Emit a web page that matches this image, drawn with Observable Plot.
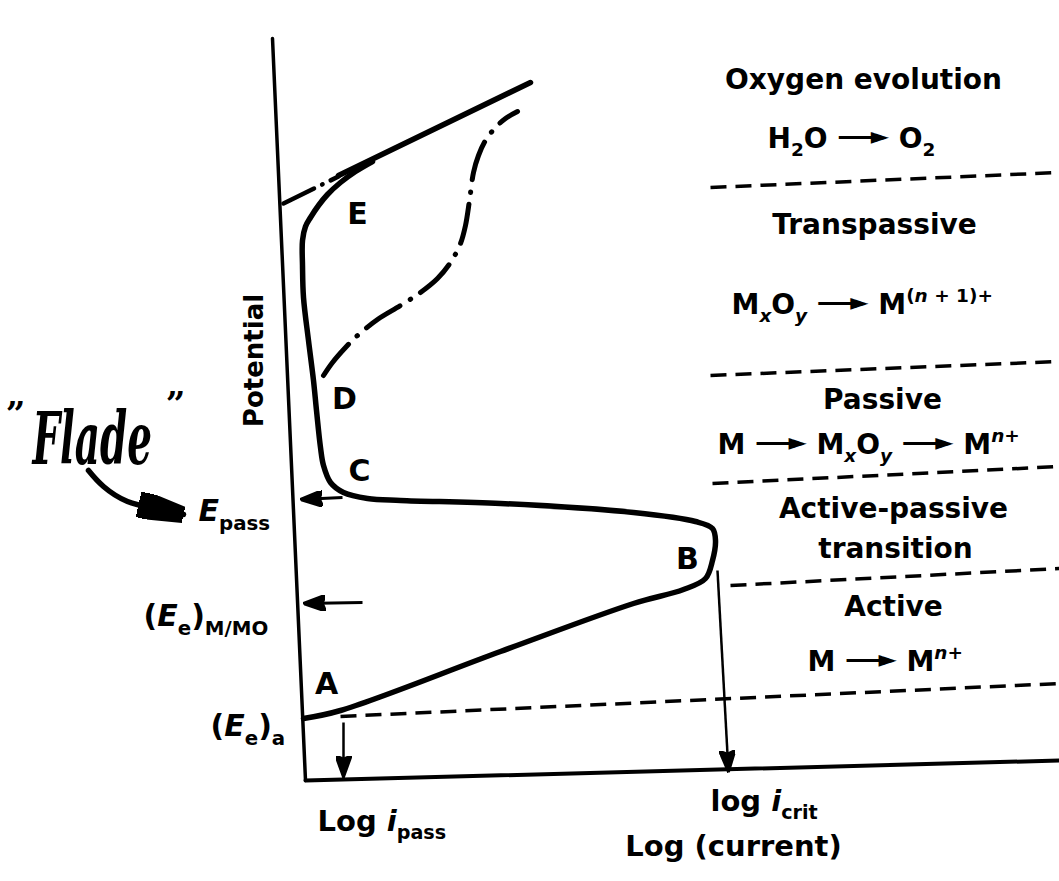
<!DOCTYPE html>
<html>
<head>
<meta charset="utf-8">
<script src="https://cdn.jsdelivr.net/npm/d3@7"></script>
<script src="https://cdn.jsdelivr.net/npm/@observablehq/plot@0.6"></script>
<style>
  body { margin: 0; background: #fff; }
  svg { display: block; }
</style>
</head>
<body>
<div id="chart"></div>
<script>
// ---------- data (x = log current, y = potential; arbitrary units) ----------
const yAxisLine = [[-3.3, 74.2], [0, 0]];
const xAxisLine = [[0, 0], [75.4, 2.0]];

// solid anodic polarization curve A -> B -> C -> D -> E
const polarizationCurve = [
  [-0.2, 6.2], [3.5, 7.0], [19.5, 12.9], [32.8, 17.7], [37.8, 19.1], [40.0, 20.2],
  [40.7, 22.0], [41.0, 24.0], [40.7, 25.2], [39.0, 25.9], [32.8, 26.8], [19.5, 27.7],
  [9.5, 28.0], [6.2, 28.2], [3.8, 28.8], [2.5, 29.8], [1.8, 31.5], [1.5, 33.3],
  [1.1, 37.0], [0.8, 40.0], [0.3, 44.0], [-0.2, 48.3], [-0.3, 51.5], [-0.3, 54.0],
  [0.0, 55.4], [0.5, 56.3], [1.3, 57.5], [2.2, 58.6], [3.5, 59.8], [5.0, 60.9], [6.7, 61.9]
];
// oxygen-evolution Tafel line and its dash-dot extension to the axis
const oxygenLine = [[3.3, 60.5], [22.5, 69.8]];
const oxygenExtension = [[-2.2, 57.7], [3.3, 60.4]];
// dash-dot transpassive branch from D
const transpassiveCurve = [
  [1.8, 40.5], [2.7, 41.8], [4.0, 43.3], [5.2, 44.5], [7.2, 46.1], [9.5, 47.5],
  [11.5, 48.8], [13.2, 50.2], [14.5, 51.8], [15.5, 53.7], [16.0, 55.5], [16.4, 58.0],
  [16.8, 60.8], [17.3, 62.5], [18.0, 64.0], [19.0, 65.3], [20.0, 66.2], [21.2, 66.9]
];
// dashed region boundaries
const boundaries = [
  {x1: 3.5, y1: 6.4, x2: 75.4, y2: 9.7},
  {x1: 42.5, y1: 19.5, x2: 75.4, y2: 21.2},
  {x1: 40.7, y1: 29.7, x2: 75.4, y2: 31.4},
  {x1: 40.5, y1: 40.5, x2: 75.4, y2: 41.9},
  {x1: 40.5, y1: 59.3, x2: 75.4, y2: 60.8}
];
// pointer arrows
const potentialArrows = [
  {x1: 3.7, y1: 28.3, x2: -0.5, y2: 28.1},
  {x1: 5.7, y1: 17.8, x2: -0.2, y2: 17.7}
];
const currentArrows = [
  {x1: 3.8, y1: 5.8, x2: 3.8, y2: 0.3},
  {x1: 41.2, y1: 21.0, x2: 42.3, y2: 0.8}
];
const fladeArrow = [[-21.7, 31.0], [-20.2, 29.4], [-17.8, 27.9], [-15.0, 27.2], [-12.2, 26.6]];

// text labels
const regionLabels = ["Oxygen evolution", "H_{2}O {->} O_{2}", "Transpassive", "Passive", "Active-passive", "transition", "Active"];
const regionLabelX = [55.8, 54.6, 56.9, 57.7, 58.8, 59.0, 58.8];
const regionLabelY = [69.2, 63.3, 54.7, 37.2, 26.3, 22.3, 16.5];

const reactionLabels = ["M_{~x~}O_{~y~} {->} M^{(~n~ + 1)+}", "M {->} M_{~x~}O_{~y~} {->} M^{~n~+}", "M {->} M^{~n~+}"];
const reactionLabelX = [42.6, 41.2, 50.2];
const reactionLabelY = [46.7, 32.7, 11.0];

const pointLabels = ["A", "B", "C", "D", "E"];
const pointLabelX = [2.1, 38.2, 5.4, 3.9, 5.2];
const pointLabelY = [8.7, 21.2, 30.0, 37.2, 55.7];

const potentialLabels = ["~E~_{pass}", "(~E~_{e})_{M/MO}", "(~E~_{e})_{a}"];
const potentialLabelX = [-10.7, -16.2, -9.5];
const potentialLabelY = [26.0, 15.5, 4.5];

const currentLabels = ["Log ~i~_{pass}", "log ~i~_{crit}"];
const currentLabelX = [1.2, 40.5];
const currentLabelY = [-5.0, -3.0];

const axisTitles = [{label: "Log (current)", x: 42.8, y: -7.5}];
const potentialTitle = [{label: "Potential", x: -4.3, y: 42.0}];
const fladeNote = [{label: "Flade", x: -27.3, y: 31.7}];
const fladeQuotes = [{label: "\u201D", x: -29.0, y: 35.5}, {label: "\u201D", x: -13.0, y: 36.5}];

// ---------- helpers ----------
function arrowHead(len, half) {
  return (color) => d3.create("svg:marker")
    .attr("viewBox", `${-len} ${-half} ${len} ${2 * half}`)
    .attr("markerUnits", "userSpaceOnUse")
    .attr("markerWidth", len)
    .attr("markerHeight", 2 * half)
    .attr("refX", 0).attr("refY", 0)
    .attr("orient", "auto")
    .call(m => m.append("path")
      .attr("d", `M${-len},${-half}L0,0L${-len},${half}L${-len * 0.85},0Z`)
      .attr("fill", color === "none" ? "black" : color))
    .node();
}
function wedgeHead(len, half) {
  return (color) => d3.create("svg:marker")
    .attr("viewBox", `${-len} ${-half} ${len} ${2 * half}`)
    .attr("markerUnits", "userSpaceOnUse")
    .attr("markerWidth", len)
    .attr("markerHeight", 2 * half)
    .attr("refX", 0).attr("refY", 0)
    .attr("orient", "auto")
    .call(m => m.append("path")
      .attr("d", `M${-len},${-half}L0,${-half * 0.4}L0,${half * 0.45}L${-len},${half * 0.9}Z`)
      .attr("fill", color === "none" ? "black" : color))
    .node();
}
const idx = (a) => a.map((_, i) => i);
const FONT = "DejaVu Sans";

const svg = Plot.plot({
  width: 1059,
  height: 881,
  margin: 0,
  x: {domain: [-30.5, 75.4], axis: null},
  y: {domain: [-10.1, 78], axis: null},
  style: {background: "#fff", fontFamily: FONT},
  marks: [
    Plot.line(yAxisLine, {stroke: "black", strokeWidth: 3.5}),
    Plot.line(xAxisLine, {stroke: "black", strokeWidth: 4}),
    Plot.link(boundaries, {x1: "x1", y1: "y1", x2: "x2", y2: "y2", stroke: "black", strokeWidth: 3.5, strokeDasharray: "16,9"}),
    Plot.line(polarizationCurve, {curve: "catmull-rom", stroke: "black", strokeWidth: 5.5, strokeLinejoin: "round", strokeLinecap: "round"}),
    Plot.line(oxygenLine, {stroke: "black", strokeWidth: 5.5, strokeLinecap: "round"}),
    Plot.line(oxygenExtension, {stroke: "black", strokeWidth: 4.5, strokeLinecap: "round", strokeDasharray: "34,9,0.5,9"}),
    Plot.line(transpassiveCurve, {curve: "catmull-rom", stroke: "black", strokeWidth: 5, strokeLinecap: "round", strokeDasharray: "40,12,0.5,12"}),
    Plot.link(potentialArrows, {x1: "x1", y1: "y1", x2: "x2", y2: "y2", stroke: "black", strokeWidth: 3, markerEnd: arrowHead(22, 8)}),
    Plot.link(currentArrows, {x1: "x1", y1: "y1", x2: "x2", y2: "y2", stroke: "black", strokeWidth: 2.5, markerEnd: arrowHead(22, 8)}),
    Plot.line(fladeArrow, {curve: "natural", stroke: "black", strokeWidth: 5.5, strokeLinecap: "round", markerEnd: wedgeHead(46, 13)}),

    Plot.text(idx(regionLabels), {text: i => regionLabels[i], x: i => regionLabelX[i], y: i => regionLabelY[i],
      textAnchor: "middle", lineAnchor: "bottom", fontSize: 28, fontWeight: "bold", fill: "black"}),
    Plot.text(idx(reactionLabels), {text: i => reactionLabels[i], x: i => reactionLabelX[i], y: i => reactionLabelY[i],
      textAnchor: "start", lineAnchor: "bottom", fontSize: 28, fontWeight: "bold", fill: "black"}),
    Plot.text(idx(pointLabels), {text: i => pointLabels[i], x: i => pointLabelX[i], y: i => pointLabelY[i],
      textAnchor: "middle", lineAnchor: "bottom", fontSize: 30, fontWeight: "bold", fill: "black"}),
    Plot.text(idx(potentialLabels), {text: i => potentialLabels[i], x: i => potentialLabelX[i], y: i => potentialLabelY[i],
      textAnchor: "start", lineAnchor: "bottom", fontSize: 30, fontWeight: "bold", fill: "black"}),
    Plot.text(idx(currentLabels), {text: i => currentLabels[i], x: i => currentLabelX[i], y: i => currentLabelY[i],
      textAnchor: "start", lineAnchor: "bottom", fontSize: 29, fontWeight: "bold", fill: "black"}),
    Plot.text(axisTitles, {text: "label", x: "x", y: "y", textAnchor: "middle", lineAnchor: "bottom", fontSize: 29, fontWeight: "bold", fill: "black"}),
    Plot.text(potentialTitle, {text: "label", x: "x", y: "y", rotate: -90, textAnchor: "middle", lineAnchor: "bottom", fontSize: 26, fontWeight: "bold", fill: "black"}),
    Plot.text(fladeNote, {text: "label", x: "x", y: "y", textAnchor: "start", lineAnchor: "bottom", fontSize: 72,
      fontFamily: "DejaVu Serif", fontStyle: "italic", fontWeight: "bold", fill: "black"}),
    Plot.text(fladeQuotes, {text: "label", x: "x", y: "y", textAnchor: "middle", lineAnchor: "bottom", fontSize: 34,
      fontFamily: "DejaVu Serif", fontWeight: "bold", fill: "black"})
  ]
});

// rich text: _{sub}, ^{sup}, ~italic~, {->} reaction arrow
function richify(t) {
  const s = t.textContent;
  if (s === "Flade") {
    // handwritten note: narrow the glyphs horizontally
    const w = t.getComputedTextLength ? 0 : 0;
    t.setAttribute("transform", (t.getAttribute("transform") || "") + " scale(0.54,1)");
    return;
  }
  if (!/[_^~]|\{->\}/.test(s)) return;
  let el = t, fs = 28;
  while (el && el.getAttribute) {
    const v = el.getAttribute("font-size");
    if (v) { fs = parseFloat(v); break; }
    el = el.parentNode;
  }
  const ns = "http://www.w3.org/2000/svg";
  while (t.firstChild) t.removeChild(t.firstChild);
  const parts = s.split(/(_\{[^}]*\}|\^\{[^}]*\}|~[^~]*~|\{->\})/).filter(p => p);
  let shift = 0, pendingDx = 0;
  for (const p of parts) {
    if (p === "{->}") {
      // long arrow with a filled head, as in the reference (one tspan)
      const target = -0.12 * fs;
      const arrow = document.createElementNS(ns, "tspan");
      if (target !== shift) arrow.setAttribute("dy", target - shift);
      shift = target;
      arrow.setAttribute("font-size", 0.85 * fs);
      arrow.setAttribute("letter-spacing", "-0.3em");
      arrow.textContent = "\u2014\u2014\u25BA";
      t.appendChild(arrow);
      pendingDx = 0.3 * 0.85 * fs;
      continue;
    }
    let kind = "n", content = p;
    if (p.startsWith("_{")) { kind = "sub"; content = p.slice(2, -1); }
    else if (p.startsWith("^{")) { kind = "sup"; content = p.slice(2, -1); }
    const target = kind === "sub" ? 0.3 * fs : kind === "sup" ? -0.42 * fs : 0;
    let first = true;
    content.split("~").forEach((seg, i) => {
      if (!seg) return;
      const ts = document.createElementNS(ns, "tspan");
      if (first) {
        if (target !== shift) ts.setAttribute("dy", target - shift);
        if (pendingDx) { ts.setAttribute("dx", pendingDx); pendingDx = 0; }
        shift = target; first = false;
      }
      if (kind !== "n") ts.setAttribute("font-size", 0.66 * fs);
      if (i % 2 === 1) ts.setAttribute("font-style", "italic");
      ts.textContent = seg;
      t.appendChild(ts);
    });
  }
}
svg.querySelectorAll("text").forEach(richify);

document.getElementById("chart").appendChild(svg);
</script>
</body>
</html>
